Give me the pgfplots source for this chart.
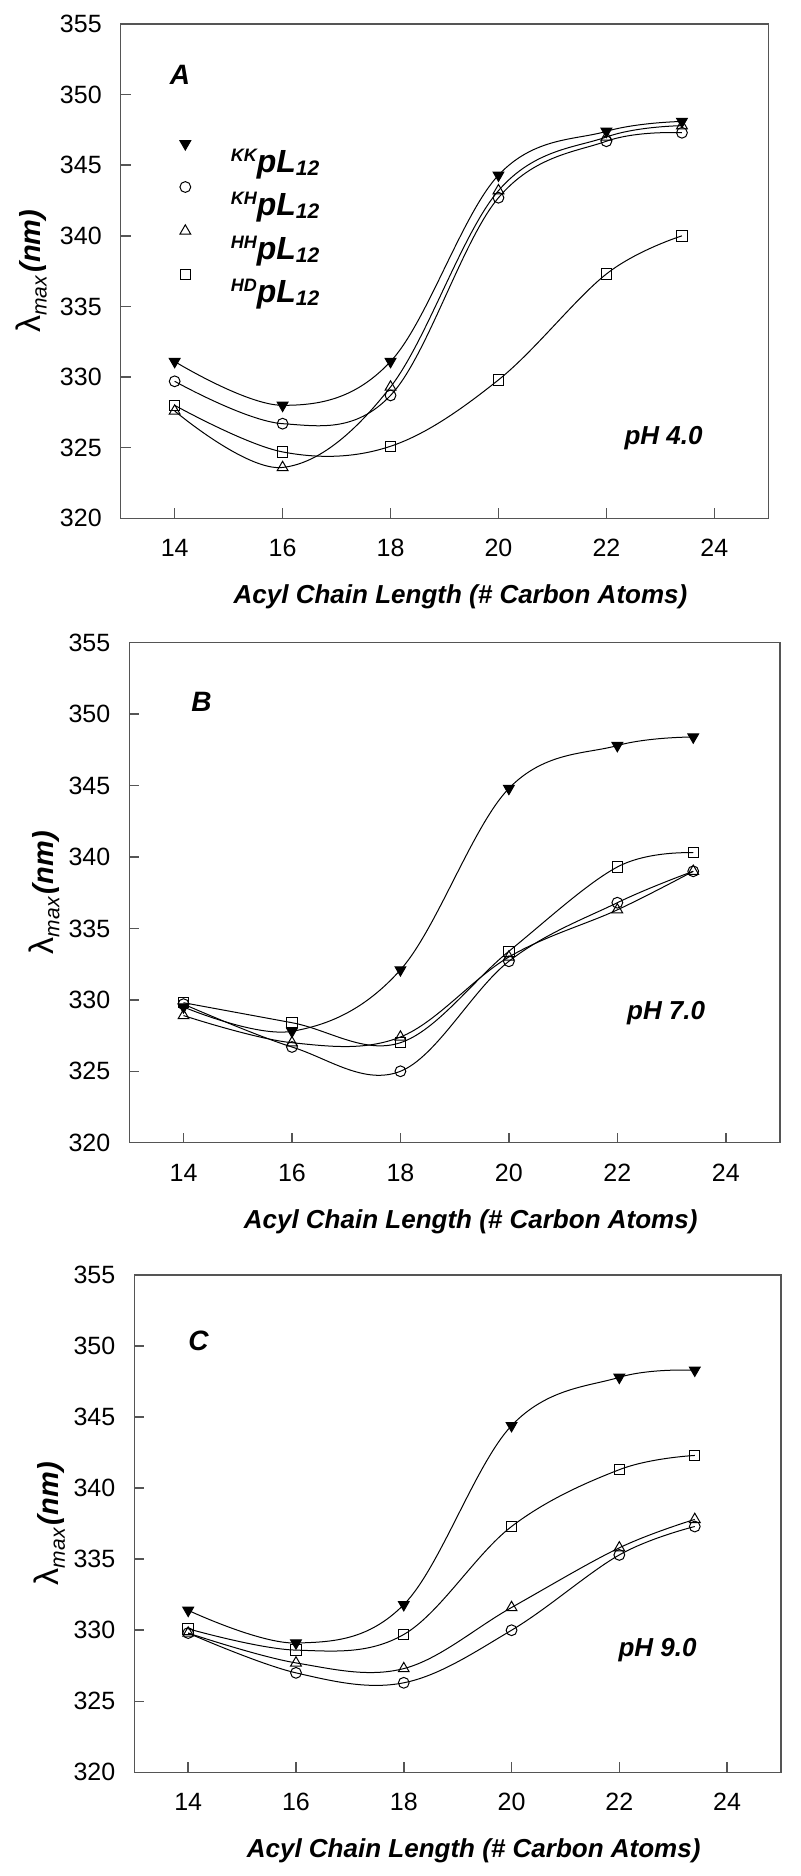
\documentclass[border=0pt]{standalone}
\usepackage{pgfplots}
\usepackage{pgfplotstable}
\pgfplotsset{compat=1.18}
\usepackage{fontspec}
\setmainfont{Liberation Sans}

\definecolor{axgray}{HTML}{555555}

% lambda_max (nm) and ^{XY}pL_{12}
\newcommand{\ylab}{{\fontsize{17}{18}\selectfont λ}\raisebox{-3pt}{\fontsize{10.5}{11}\selectfont\itshape max}\,{\fontsize{14.5}{16}\selectfont\bfseries\itshape (nm)}}
\newcommand{\pl}[1]{\rule[-5.6pt]{0pt}{22.5pt}\raisebox{5.5pt}{\fontsize{9}{9}\selectfont #1}pL\raisebox{-1.5pt}{\fontsize{10.5}{10.5}\selectfont 12}}

\tikzset{
  kk/.style={mark=triangle*, mark size=3.1pt, mark options={rotate=180, solid, fill=black}},
  kh/.style={mark=o, mark size=2.7pt, mark options={solid}},
  hh/.style={mark=triangle, mark size=3.1pt, mark options={solid}},
  hd/.style={mark=square, mark size=2.6pt, mark options={solid}},
}

\pgfplotsset{
  panel/.style={
    scale only axis,
    anchor=north west,
    xmin=13, xmax=25, ymin=320, ymax=355,
    xtick={14,16,18,20,22,24}, ytick={320,325,330,335,340,345,350,355},
    tick align=inside, major tick length=5pt,
    xtick pos=bottom, ytick pos=left,
    axis line style={axgray, line width=0.75pt},
    tick style={axgray, line width=0.75pt},
    /pgf/number format/assume math mode=true,
    ticklabel style={font=\fontsize{12.5}{14}\selectfont},
    xticklabel style={anchor=center, yshift=-14.9pt},
    yticklabel style={anchor=east, inner sep=0pt, xshift=-9.3pt},
    xlabel={\textbf{\textit{Acyl Chain Length (\# Carbon Atoms)}}},
    xlabel style={font=\fontsize{13}{15}\selectfont, at={(axis description cs:0.5,0)},
      anchor=center, yshift=-39.4pt, xshift=8pt},
    ylabel={\ylab},
    every axis plot/.append style={black, line width=0.5pt, smooth, tension=0.6},
  },
  ylabx/.style={ylabel style={at={(axis description cs:#1,0.5)}, anchor=center}},
}

\pgfplotstableread{
x    kk    kh    hh    hd
14   331.1 329.7 327.6 328.0
16   328.0 326.7 323.6 324.7
18   331.1 328.7 329.3 325.1
20   344.3 342.7 343.2 329.8
22   347.4 346.7 347.0 337.3
23.4 348.1 347.3 347.8 340.0
}\phfour

\pgfplotstableread{
x    kk    kh    hh    hd
14   329.5 329.7 328.9 329.8
16   327.8 326.7 327.0 328.4
18   332.1 325.0 327.4 327.0
20   344.8 332.7 333.0 333.4
22   347.8 336.8 336.3 339.3
23.4 348.4 339.0 339.0 340.3
}\phseven

\pgfplotstableread{
x    kk    kh    hh    hd
14   331.4 329.8 329.8 330.1
16   329.1 327.0 327.7 328.6
18   331.8 326.3 327.3 329.7
20   344.4 330.0 331.6 337.3
22   347.8 335.3 335.8 341.3
23.4 348.3 337.3 337.8 342.3
}\phnine

\begin{document}
\begin{tikzpicture}
\path[use as bounding box] (0pt,0pt) rectangle (400pt,-938pt);

% ---- A: pH 4.0
\begin{axis}[panel, ylabx=-0.138, at={(60.35pt,-12pt)}, width=323.8pt, height=247.15pt,
  legend cell align=left,
  legend image code/.code={\path (-4pt,0pt) (22.5pt,0pt); \draw[#1] plot[only marks] coordinates {(0pt,6.5pt)};},
  legend style={draw=none, fill=none, inner sep=0pt, outer sep=0pt, row sep=3.2pt,
    nodes={inner sep=0pt}, font=\fontsize{16}{18}\selectfont\bfseries\itshape,
    at={(axis cs:14.04,346.9)}, anchor=north west},
]
\addlegendimage{kk, only marks}
\addlegendentry{\pl{KK}}
\addlegendimage{kh, only marks}
\addlegendentry{\pl{KH}}
\addlegendimage{hh, only marks}
\addlegendentry{\pl{HH}}
\addlegendimage{hd, only marks}
\addlegendentry{\pl{HD}}
\addplot[kk, forget plot] table[x=x, y=kk] {\phfour};
\addplot[kh, forget plot] table[x=x, y=kh] {\phfour};
\addplot[hh, forget plot] table[x=x, y=hh] {\phfour};
\addplot[hd, forget plot] table[x=x, y=hd] {\phfour};
\node[font=\fontsize{14}{16}\selectfont\bfseries\itshape] at (axis cs:14.1,351.4) {A};
\node[font=\fontsize{13}{15}\selectfont\bfseries\itshape] at (axis cs:23.06,325.7) {pH 4.0};
\end{axis}

% ---- B: pH 7.0
\begin{axis}[panel, ylabx=-0.131, at={(64.65pt,-321.35pt)}, width=325.35pt, height=250pt]
\addplot[kk] table[x=x, y=kk] {\phseven};
\addplot[kh] table[x=x, y=kh] {\phseven};
\addplot[hh] table[x=x, y=hh] {\phseven};
\addplot[hd] table[x=x, y=hd] {\phseven};
\node[font=\fontsize{14}{16}\selectfont\bfseries\itshape] at (axis cs:14.33,350.85) {B};
\node[font=\fontsize{13}{15}\selectfont\bfseries\itshape] at (axis cs:22.9,329.1) {pH 7.0};
\end{axis}

% ---- C: pH 9.0
\begin{axis}[panel, ylabx=-0.131, at={(67.15pt,-637.5pt)}, width=323.35pt, height=248.65pt]
\addplot[kk] table[x=x, y=kk] {\phnine};
\addplot[kh] table[x=x, y=kh] {\phnine};
\addplot[hh] table[x=x, y=hh] {\phnine};
\addplot[hd] table[x=x, y=hd] {\phnine};
\node[font=\fontsize{14}{16}\selectfont\bfseries\itshape] at (axis cs:14.19,350.4) {C};
\node[font=\fontsize{13}{15}\selectfont\bfseries\itshape] at (axis cs:22.71,328.6) {pH 9.0};
\end{axis}
\end{tikzpicture}
\end{document}
